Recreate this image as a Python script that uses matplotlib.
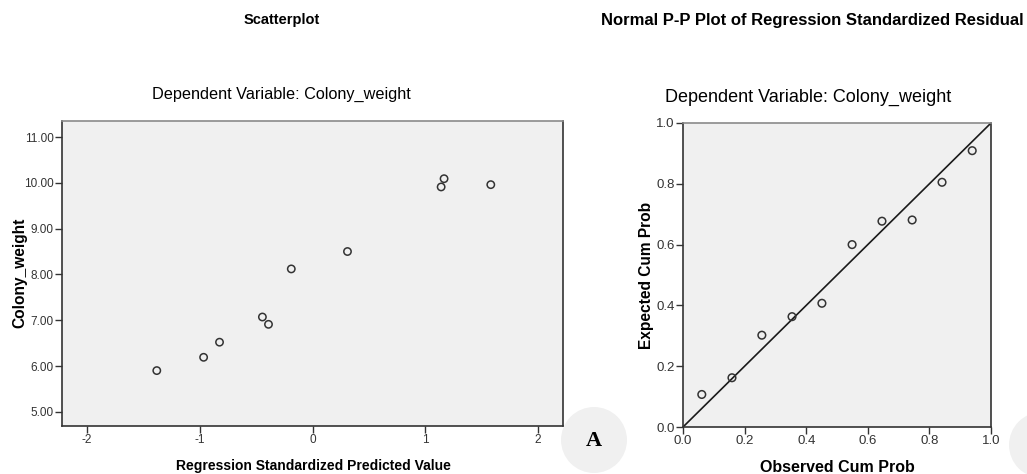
import matplotlib
matplotlib.use("Agg")
import matplotlib.pyplot as plt
from matplotlib.patches import Circle

plt.rcParams['font.family'] = ['Liberation Sans', 'DejaVu Sans']

# scatterplot: standardized predicted value vs colony weight
pred_value = [-1.38, -0.965, -0.824, -0.444, -0.39, -0.188, 0.31, 1.14, 1.166, 1.58]
colony_weight = [5.90, 6.19, 6.52, 7.07, 6.91, 8.12, 8.50, 9.91, 10.09, 9.96]

# normal P-P plot of standardized residuals
observed_cum = [0.061, 0.159, 0.256, 0.354, 0.451, 0.549, 0.646, 0.744, 0.841, 0.939]
expected_cum = [0.107, 0.162, 0.302, 0.363, 0.407, 0.600, 0.677, 0.681, 0.805, 0.909]

x_ticks = [-2, -1, 0, 1, 2]
y_ticks = [5, 6, 7, 8, 9, 10, 11]
pp_ticks = [0.0, 0.2, 0.4, 0.6, 0.8, 1.0]

W, H = 1027, 474
fig = plt.figure(figsize=(W / 100, H / 100), dpi=100)
bg = '#f0f0f0'
tick_col = '#333333'


def style_axes(ax, size):
    ax.set_facecolor(bg)
    for s in ['left', 'bottom', 'right']:
        ax.spines[s].set_color('#333333')
        ax.spines[s].set_linewidth(1.2)
    ax.spines['top'].set_color('#8a8a8a')
    ax.spines['top'].set_linewidth(1.2)
    ax.tick_params(direction='out', length=5, width=1, colors=tick_col,
                   labelsize=size, labelcolor=tick_col, pad=1)


def px_axes(x0, y0, x1, y1):
    return fig.add_axes([x0 / W, 1 - y1 / H, (x1 - x0) / W, (y1 - y0) / H])


# left panel
ax1 = px_axes(62, 121, 563, 426)
style_axes(ax1, 8.5)
ax1.scatter(pred_value, colony_weight, s=28, facecolors='none',
            edgecolors='#333333', linewidths=1.1, zorder=3)
ax1.set_xlim(-2.22, 2.22)
ax1.set_ylim(4.69, 11.35)
ax1.set_xticks(x_ticks)
ax1.set_xticklabels([str(t) for t in x_ticks])
ax1.set_yticks(y_ticks)
ax1.set_yticklabels(['%.2f' % t for t in y_ticks])

# right panel
ax2 = px_axes(683, 123, 991, 427)
style_axes(ax2, 9.5)
ax2.plot([0, 1], [0, 1], color='#1a1a1a', lw=1.2, zorder=2)
ax2.scatter(observed_cum, expected_cum, s=30, facecolors='none',
            edgecolors='#333333', linewidths=1.1, zorder=3)
ax2.set_xlim(0, 1)
ax2.set_ylim(0, 1)
ax2.set_xticks(pp_ticks)
ax2.set_xticklabels(['%.1f' % t for t in pp_ticks])
ax2.set_yticks(pp_ticks)
ax2.set_yticklabels(['%.1f' % t for t in pp_ticks])


def ftext(x, y, s, **kw):
    fig.text(x / W, 1 - y / H, s, ha='center', va='center', **kw)


ftext(282, 20, 'Scatterplot', fontsize=10.5, fontweight='bold')
ftext(812, 20, 'Normal P-P Plot of Regression Standardized Residual',
      fontsize=12, fontweight='bold')
ftext(281, 94, 'Dependent Variable: Colony_weight', fontsize=11.7)
ftext(808, 97, 'Dependent Variable: Colony_weight', fontsize=13)

ftext(313, 466, 'Regression Standardized Predicted Value', fontsize=10,
      fontweight='bold')
ftext(20, 273, 'Colony_weight', fontsize=11.2, fontweight='bold',
      rotation=90)
ftext(837, 467, 'Observed Cum Prob', fontsize=11.5, fontweight='bold')
ftext(647, 275, 'Expected Cum Prob', fontsize=11.2, fontweight='bold',
      rotation=90)

# panel letter badges
for cx, cy in [(594, 440), (1042, 445)]:
    fig.patches.append(Circle((cx / 100, (H - cy) / 100), 0.33,
                              transform=fig.dpi_scale_trans,
                              facecolor='#f0f0f0', edgecolor='none'))
ftext(594, 441, 'A', fontsize=16, fontweight='bold',
      family=['Liberation Serif', 'DejaVu Serif'])

fig.savefig('out.png', dpi=100)
